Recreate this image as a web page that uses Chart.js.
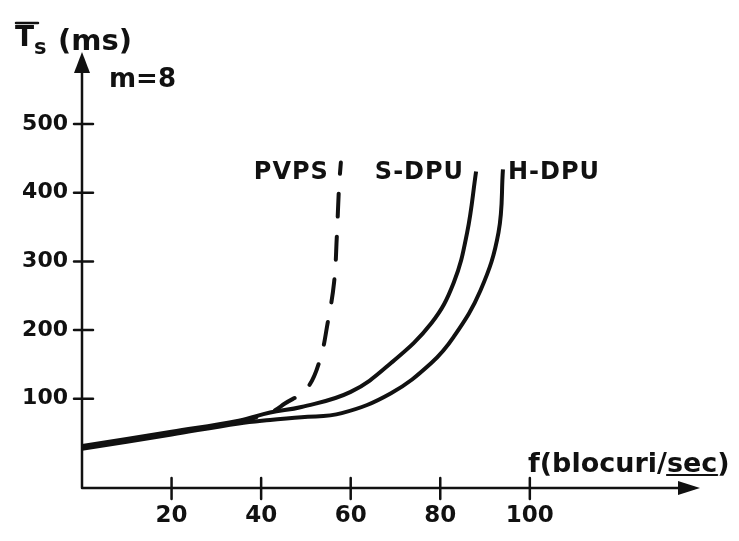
<!DOCTYPE html>
<html>
<head>
<meta charset="utf-8">
<script src="https://cdn.jsdelivr.net/npm/chart.js@4.4.0/dist/chart.umd.min.js"></script>
<style>
  html, body { margin: 0; padding: 0; background: #fff; }
  canvas { display: block; }
</style>
</head>
<body>
<canvas id="chart" width="739" height="541"></canvas>
<script>
// tick values on both axes
var xTicks = [20, 40, 60, 80, 100];
var yTicks = [100, 200, 300, 400, 500];

// f (blocks/sec) against mean service time Ts (ms), m = 8
var pvpsF = [0, 21, 35, 42, 45.3, 50.2, 53.1, 54.9, 56.3, 56.9, 57.4, 57.8];
var pvpsT = [29, 51, 67, 80, 93, 115, 156, 212, 270, 336, 409, 444];

var sdpuF = [0, 20, 35, 42, 49, 60, 69, 78, 83, 86, 88];
var sdpuT = [31, 52, 68, 80, 88, 110, 152, 210, 269, 342, 431];

var hdpuF = [0, 20, 35, 42, 49, 58, 69, 78, 83, 89, 93, 94];
var hdpuT = [27, 48, 64, 69, 73, 79, 108, 152, 190, 258, 342, 434];

var ink = '#111';
var font = "'DejaVu Sans'";

function pts(xs, ys) {
  return xs.map(function (v, i) { return { x: v, y: ys[i] }; });
}

var handAxes = {
  id: 'handAxes',
  afterDraw: function (chart) {
    var ctx = chart.ctx, a = chart.chartArea;
    var x = chart.scales.x, y = chart.scales.y;
    ctx.save();
    ctx.strokeStyle = ink;
    ctx.fillStyle = ink;
    ctx.lineWidth = 2.5;
    ctx.lineCap = 'round';

    // axis lines
    ctx.beginPath();
    ctx.moveTo(a.left, a.bottom);
    ctx.lineTo(a.left, a.top + 6);
    ctx.moveTo(a.left, a.bottom);
    ctx.lineTo(a.right - 6, a.bottom);
    ctx.stroke();

    // arrow heads
    ctx.beginPath();
    ctx.moveTo(a.left, a.top);
    ctx.lineTo(a.left - 8, a.top + 21);
    ctx.lineTo(a.left + 8, a.top + 21);
    ctx.closePath();
    ctx.fill();
    ctx.beginPath();
    ctx.moveTo(a.right, a.bottom);
    ctx.lineTo(a.right - 22, a.bottom - 7);
    ctx.lineTo(a.right - 22, a.bottom + 7);
    ctx.closePath();
    ctx.fill();

    // tick marks crossing the axes
    ctx.beginPath();
    xTicks.forEach(function (t) {
      var px = x.getPixelForValue(t);
      ctx.moveTo(px, a.bottom - 10);
      ctx.lineTo(px, a.bottom + 11);
    });
    yTicks.forEach(function (t) {
      var py = y.getPixelForValue(t);
      ctx.moveTo(a.left - 8, py);
      ctx.lineTo(a.left + 11, py);
    });
    ctx.stroke();

    // axis titles
    ctx.textBaseline = 'alphabetic';
    ctx.textAlign = 'left';
    ctx.font = 'bold 28px ' + font;
    ctx.fillText('T', 15, 46);
    ctx.beginPath();
    ctx.moveTo(16, 23);
    ctx.lineTo(38, 23);
    ctx.stroke();
    ctx.font = 'bold 21px ' + font;
    ctx.fillText('s', 34, 54);
    ctx.font = 'bold 29px ' + font;
    ctx.fillText('(ms)', 58, 50);
    ctx.font = 'bold 26px ' + font;
    ctx.fillText('m=8', 109, 87);

    ctx.font = 'bold 27px ' + font;
    var lead = 'f(blocuri/', unit = 'sec', tail = ')';
    var lx = 528, ly = 472;
    ctx.fillText(lead, lx, ly);
    var w1 = ctx.measureText(lead).width;
    ctx.fillText(unit, lx + w1, ly);
    var w2 = ctx.measureText(unit).width;
    ctx.fillText(tail, lx + w1 + w2, ly);
    ctx.lineWidth = 2;
    ctx.beginPath();
    ctx.moveTo(lx + w1, ly + 3);
    ctx.lineTo(lx + w1 + w2, ly + 3);
    ctx.stroke();

    // curve names next to the top of each curve, on one common line
    var tops = chart.data.datasets.map(function (ds, i) {
      var els = chart.getDatasetMeta(i).data;
      return els[els.length - 1];
    });
    var labelY = Math.min.apply(null, tops.map(function (p) { return p.y; })) + 10;
    ctx.font = 'bold 24px ' + font;
    ctx.letterSpacing = '1px';
    ctx.textBaseline = 'middle';
    chart.data.datasets.forEach(function (ds, i) {
      var top = tops[i];
      if (ds.labelSide === 'right') {
        ctx.textAlign = 'left';
        ctx.fillText(ds.label, top.x + 5, labelY);
      } else {
        ctx.textAlign = 'right';
        ctx.fillText(ds.label, top.x - 12, labelY);
      }
    });
    ctx.restore();
  }
};

var ctx = document.getElementById('chart').getContext('2d');
var chart = new Chart(ctx, {
  type: 'line',
  data: {
    datasets: [{
      label: 'PVPS',
      data: pts(pvpsF, pvpsT),
      borderColor: ink,
      borderWidth: 4,
      borderDash: [23, 20],
      borderDashOffset: 18,
      borderCapStyle: 'round',
      labelSide: 'left'
    }, {
      label: 'S-DPU',
      data: pts(sdpuF, sdpuT),
      borderColor: ink,
      borderWidth: 4,
      labelSide: 'left'
    }, {
      label: 'H-DPU',
      data: pts(hdpuF, hdpuT),
      borderColor: ink,
      borderWidth: 4,
      labelSide: 'right'
    }]
  },
  options: {
    responsive: false,
    animation: false,
    layout: { padding: { top: 52, right: 39, left: 0, bottom: 0 } },
    elements: {
      point: { radius: 0 },
      line: { fill: false, tension: 0.4, borderJoinStyle: 'round' }
    },
    plugins: {
      legend: { display: false },
      tooltip: { enabled: false }
    },
    scales: {
      x: {
        type: 'linear',
        min: 0,
        max: 138,
        grid: { display: false, drawTicks: false },
        border: { display: false },
        afterBuildTicks: function (s) { s.ticks = xTicks.map(function (v) { return { value: v }; }); },
        afterFit: function (s) { s.height = 53; },
        ticks: {
          color: ink,
          padding: 14,
          font: { family: font, size: 23, weight: 'bold' }
        }
      },
      y: {
        type: 'linear',
        min: -30,
        max: 605,
        grid: { display: false, drawTicks: false },
        border: { display: false },
        afterBuildTicks: function (s) { s.ticks = yTicks.map(function (v) { return { value: v }; }); },
        afterFit: function (s) { s.width = 82; },
        ticks: {
          color: ink,
          padding: 14,
          font: { family: font, size: 22, weight: 'bold' }
        }
      }
    }
  },
  plugins: [handAxes]
});
</script>
</body>
</html>
